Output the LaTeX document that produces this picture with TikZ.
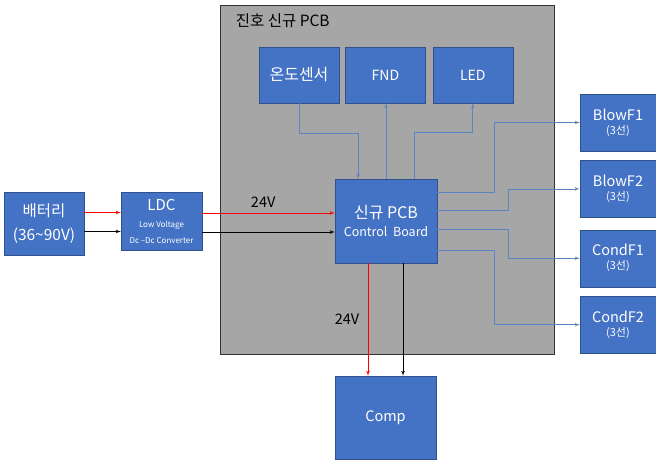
\documentclass[tikz,border=0pt]{standalone}
\usepackage{fontspec}
\setmainfont{Noto Sans CJK KR}
\usepackage{xcolor}
\definecolor{boxblue}{RGB}{68,114,196}
\definecolor{boxedge}{RGB}{47,82,143}
\definecolor{linkblue}{RGB}{91,132,196}
\definecolor{pcbgray}{RGB}{166,166,166}
\definecolor{pcbedge}{RGB}{50,50,50}
\usepackage{tikz}
\usetikzlibrary{arrows, positioning, calc}

\begin{document}
\begin{tikzpicture}[x=1pt, y=-1pt, node distance=9pt,
        block/.style={rectangle, draw=boxedge, fill=boxblue, text=white, align=center, inner sep=0pt, font=\fontsize{14.5}{16}\selectfont},
        topblock/.style={block, minimum width=80pt, minimum height=56pt, font=\fontsize{14}{16}\selectfont},
        fanblock/.style={block, minimum width=76pt, minimum height=57pt},
        pcbbox/.style={rectangle, draw=pcbedge, fill=pcbgray, line width=0.8pt, minimum width=334pt, minimum height=349pt, inner sep=0pt},
        line/.style={draw=linkblue, -latex', line width=0.7pt},
        redline/.style={draw=red, -latex', line width=0.7pt},
        blackline/.style={draw=black, -latex', line width=0.7pt},
        vlabel/.style={font=\fontsize{14.5}{16}\selectfont, text=black}]

        \useasboundingbox (0,0) rectangle (656,460);

        % Placa gris de fondo
        \node [pcbbox] (pcb) at (387,179.5) {};
        \node [anchor=north west, inner sep=0pt, font=\fontsize{15.5}{18}\selectfont] (title) at ([xshift=16pt, yshift=-9pt]pcb.north west) {진호 신규 PCB};

        % Fila superior
        \node [topblock, font=\fontsize{16}{18}\selectfont] (sensor) at (299,75) {온도센서};
        \node [topblock, right=6pt of sensor] (fnd) {FND};
        \node [topblock, right=7pt of fnd] (led) {LED};

        % Alimentación
        \node [block, minimum width=80pt, minimum height=63pt, font=\fontsize{15.5}{24}\selectfont] (bat) at (44,223.5) {배터리\\(36\textasciitilde 90V)};
        \node [block, minimum width=81pt, minimum height=58pt] (ldc) at (161.5,221) {{\fontsize{15}{17}\selectfont LDC}\\[1pt]{\fontsize{8}{13}\selectfont Low Voltage}\\{\fontsize{8}{13}\selectfont Dc –Dc Converter}};

        % Placa de control y compresor
        \node [block, minimum width=102pt, minimum height=84pt] (ctrl) at (386,221) {{\fontsize{16}{18}\selectfont 신규 PCB}\\[2pt]{\fontsize{12.5}{15}\selectfont Control~ Board}};
        \node [block, minimum width=101pt, minimum height=83pt] (comp) at (385.5,417.5) {Comp};

        % Ventiladores
        \node [fanblock] (blowf1) at (618,122.5) {BlowF1\\[-2pt]{\fontsize{11}{12}\selectfont (3선)}};
        \node [fanblock, below=9pt of blowf1] (blowf2) {BlowF2\\[-2pt]{\fontsize{11}{12}\selectfont (3선)}};
        \node [fanblock, below=12pt of blowf2] (condf1) {CondF1\\[-2pt]{\fontsize{11}{12}\selectfont (3선)}};
        \node [fanblock, below=9pt of condf1] (condf2) {CondF2\\[-2pt]{\fontsize{11}{12}\selectfont (3선)}};

        % Potencia
        \path [redline] ([yshift=11pt]bat.east) -- ([yshift=11pt]bat.east -| ldc.west);
        \path [blackline] ([yshift=-8pt]bat.east) -- ([yshift=-8pt]bat.east -| ldc.west);
        \path [redline] ([yshift=8pt]ldc.east) -- node [vlabel, above=2pt, pos=0.46] {24V} ([yshift=8pt]ldc.east -| ctrl.west);
        \path [blackline] ([yshift=-11pt]ldc.east) -- ([yshift=-11pt]ldc.east -| ctrl.west);
        \path [redline] ([xshift=-18pt]ctrl.south) -- node [vlabel, left=5pt] {24V} ([xshift=-18pt]ctrl.south |- comp.north);
        \path [blackline] ([xshift=17pt]ctrl.south) -- ([xshift=17pt]ctrl.south |- comp.north);

        % Señales de la placa
        \path [line] (sensor.south) -- ++(0,30) -| ([xshift=-28pt]ctrl.north);
        \path [line] (ctrl.north) -- (ctrl.north |- fnd.south);
        \path [line] ([xshift=28pt]ctrl.north) -- ++(0,-46) -| (led.south);
        \path [line] ([yshift=29pt]ctrl.east) -- ++(57,0) |- (blowf1.west);
        \path [line] ([yshift=11pt]ctrl.east) -- ++(71,0) |- (blowf2.west);
        \path [line] ([yshift=-8pt]ctrl.east) -- ++(71,0) |- (condf1.west);
        \path [line] ([yshift=-29pt]ctrl.east) -- ++(57,0) |- (condf2.west);
    \end{tikzpicture}
\end{document}
